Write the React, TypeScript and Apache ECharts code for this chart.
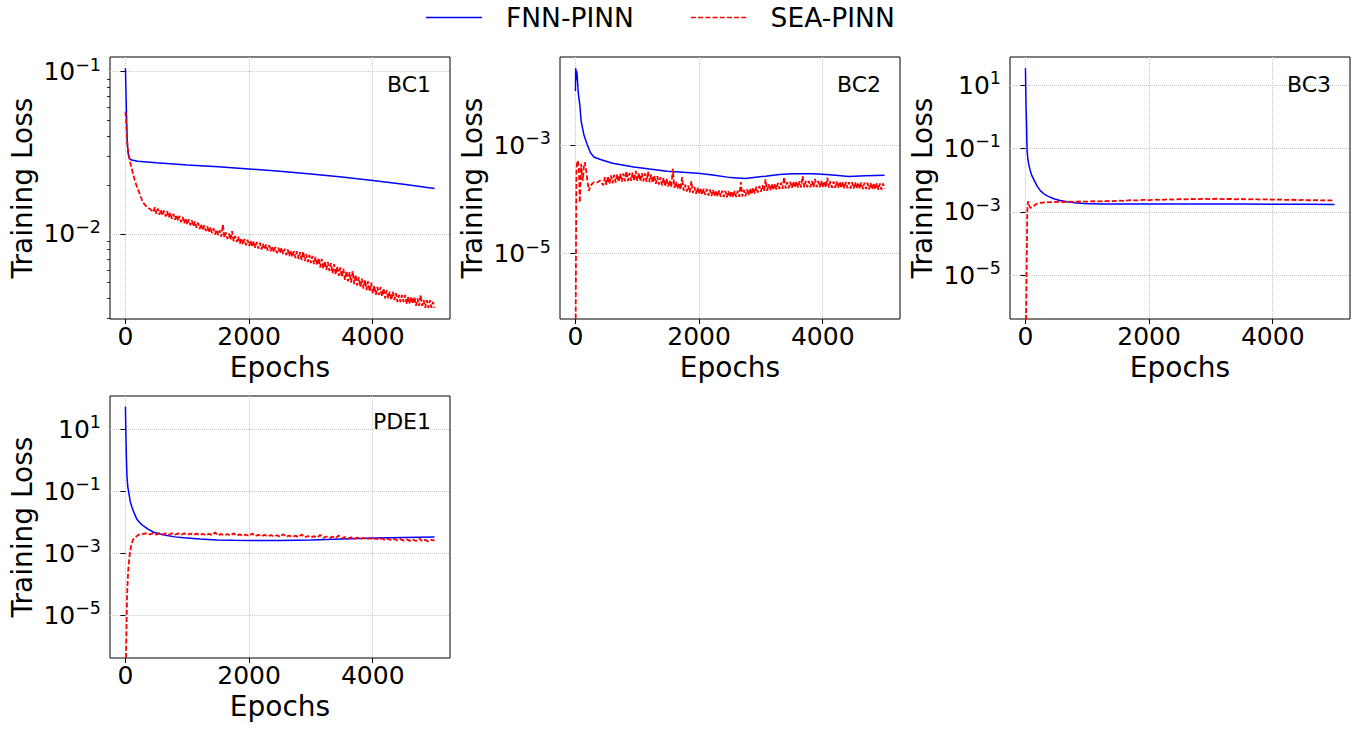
import React, { useEffect, useRef } from "react";
import * as echarts from "echarts";

const FONT = "DejaVu Sans";
const BLUE = "#0000ff";
const RED = "#ff0000";
const GRID_COLOR = "#c8c8c8";

const SERIES_NAMES = ["FNN-PINN", "SEA-PINN"];
const PANEL_NAMES = ["BC1", "BC2", "BC3", "PDE1"];
const X_TICKS = [0, 2000, 4000];
const BC1_Y_TICKS = [0.01, 0.1];
const BC1_MINOR_TICKS = [0.003, 0.004, 0.005, 0.006, 0.007, 0.008, 0.009, 0.02, 0.03, 0.04, 0.05, 0.06, 0.07, 0.08, 0.09];
const BC2_Y_TICKS = [1e-5, 1e-3];
const BC3_Y_TICKS = [1e-5, 1e-3, 1e-1, 10];
const PDE1_Y_TICKS = [1e-5, 1e-3, 1e-1, 10];

// ---------- BC1 ----------
const BC1_FNN_EP = [0, 10, 20, 30, 40, 55, 70, 100, 200, 500, 1000, 1500, 2000, 2500, 3000, 3500, 4000, 4500, 5000];
const BC1_FNN = [0.105, 0.07, 0.048, 0.037, 0.032, 0.0297, 0.029, 0.0285, 0.028, 0.0274, 0.0266, 0.0259, 0.0251, 0.0243, 0.0234, 0.0224, 0.0213, 0.0202, 0.019];
const BC1_SEA_EP = [0, 10, 20, 30, 40, 55, 70, 90, 110, 135, 160, 190, 220, 250, 280, 320, 360, 400];
const BC1_SEA_HEAD = [0.0566, 0.05, 0.042, 0.036, 0.033, 0.0305, 0.0285, 0.0262, 0.0245, 0.0225, 0.0208, 0.0193, 0.0181, 0.0168, 0.0157, 0.015, 0.0145, 0.0142];
// epochs 450..5000, every 25
const BC1_SEA_TAIL = [
  0.0136, 0.0146, 0.0133, 0.0143, 0.0131, 0.0141, 0.013, 0.0139, 0.0128, 0.0138, 0.0126, 0.0135, 0.0124, 0.0133, 0.0122, 0.0131, 0.012, 0.0129, 0.0118, 0.0127,
  0.0116, 0.0125, 0.0114, 0.0123, 0.0113, 0.0121, 0.0111, 0.0119, 0.0109, 0.0117, 0.0107, 0.0115, 0.0105, 0.0113, 0.0104, 0.0111, 0.0102, 0.011, 0.0101, 0.0108,
  0.0099, 0.0106, 0.0098, 0.0105, 0.0096, 0.0114, 0.0095, 0.0102, 0.0093, 0.01, 0.0092, 0.0104, 0.009, 0.0097, 0.0089, 0.0096, 0.0087, 0.0094, 0.0086, 0.0093,
  0.0085, 0.0092, 0.0084, 0.0091, 0.0083, 0.009, 0.0082, 0.0089, 0.0081, 0.0088, 0.008, 0.0087, 0.008, 0.0086, 0.0079, 0.0085, 0.0078, 0.0084, 0.0077, 0.0083,
  0.0076, 0.0082, 0.0076, 0.0082, 0.0075, 0.0081, 0.0074, 0.008, 0.0073, 0.0079, 0.0072, 0.0078, 0.0071, 0.0078, 0.007, 0.0077, 0.0069, 0.0078, 0.0068, 0.0075,
  0.0067, 0.0074, 0.0066, 0.0073, 0.0065, 0.0072, 0.0064, 0.0071, 0.0062, 0.007, 0.0061, 0.0068, 0.006, 0.0067, 0.0059, 0.0066, 0.0057, 0.0065, 0.0056, 0.0063,
  0.0055, 0.0062, 0.0054, 0.0061, 0.0052, 0.0059, 0.0051, 0.0058, 0.005, 0.0059, 0.0049, 0.0056, 0.0048, 0.0054, 0.0047, 0.0053, 0.0046, 0.0052, 0.0045, 0.0051,
  0.0044, 0.005, 0.0043, 0.0048, 0.0042, 0.0047, 0.0042, 0.0047, 0.0041, 0.0046, 0.004, 0.0045, 0.004, 0.0044, 0.0039, 0.0044, 0.0039, 0.0043, 0.0038, 0.0042,
  0.0038, 0.0042, 0.0038, 0.0042, 0.0037, 0.0041, 0.0037, 0.0041, 0.0037, 0.0041, 0.0036, 0.004, 0.0036, 0.0042, 0.0036, 0.0039, 0.0035, 0.0039, 0.0035, 0.0039,
  0.0035, 0.0038, 0.0035,
];

// ---------- BC2 ----------
const BC2_FNN_EP = [0, 4, 10, 16, 22, 30, 45, 70, 92, 135, 189, 243, 297, 404, 600, 943, 1200, 1482, 1750, 2021, 2250, 2507, 2749, 3073, 3300, 3504, 3827, 4000, 4205, 4420, 4690, 5000];
const BC2_FNN = [0.0101, 0.0267, 0.024, 0.016, 0.0235, 0.018, 0.0095, 0.0057, 0.0028, 0.0016, 0.00104, 0.00073, 0.00061, 0.00055, 0.00047, 0.0004, 0.000365, 0.000334, 0.000318, 0.000303, 0.00028, 0.000254, 0.000245, 0.00027, 0.00029, 0.000299, 0.000299, 0.000292, 0.000282, 0.000267, 0.000276, 0.000282];
const BC2_SEA_EP = [0, 15, 25, 37, 54, 62, 70, 80, 92, 105, 119, 135, 151, 173, 195, 216, 243, 270, 300, 350, 400];
const BC2_SEA_HEAD = [1e-7, 0.0003, 0.00047, 0.000525, 0.000394, 0.00022, 0.0000875, 0.00018, 0.000455, 0.0003, 0.000222, 0.0004, 0.000489, 0.000341, 0.00022, 0.000144, 0.000179, 0.000195, 0.00021, 0.000207, 0.000225];
// epochs 450..5000, every 25
const BC2_SEA_TAIL = [
  1.83e-4, 2.6e-4, 1.87e-4, 2.7e-4, 1.94e-4, 2.78e-4, 2.0e-4, 2.86e-4, 2.06e-4, 2.95e-4, 2.11e-4, 3.0e-4, 2.14e-4, 3.05e-4, 2.18e-4, 3.35e-4, 2.19e-4, 3.1e-4, 2.21e-4, 3.12e-4,
  2.21e-4, 3.4e-4, 2.21e-4, 3.11e-4, 2.19e-4, 3.08e-4, 2.17e-4, 3.04e-4, 2.13e-4, 3.3e-4, 2.07e-4, 2.9e-4, 2.02e-4, 2.8e-4, 1.96e-4, 2.7e-4, 1.89e-4, 2.6e-4, 1.82e-4, 2.52e-4,
  1.75e-4, 2.43e-4, 1.74e-4, 2.25e-4, 1.69e-4, 3.7e-4, 1.64e-4, 2.11e-4, 1.58e-4, 2.03e-4, 1.52e-4, 2.6e-4, 1.46e-4, 1.88e-4, 1.41e-4, 1.81e-4, 1.36e-4, 2.2e-4, 1.32e-4, 1.7e-4,
  1.28e-4, 1.66e-4, 1.26e-4, 1.63e-4, 1.23e-4, 1.59e-4, 1.21e-4, 1.56e-4, 1.18e-4, 1.53e-4, 1.16e-4, 1.51e-4, 1.14e-4, 1.48e-4, 1.13e-4, 1.47e-4, 1.12e-4, 1.46e-4, 1.11e-4, 1.44e-4,
  1.1e-4, 1.44e-4, 1.1e-4, 1.44e-4, 1.1e-4, 1.44e-4, 1.11e-4, 1.45e-4, 1.12e-4, 2.1e-4, 1.14e-4, 1.5e-4, 1.15e-4, 1.54e-4, 1.2e-4, 1.6e-4, 1.24e-4, 1.66e-4, 1.29e-4, 1.72e-4,
  1.35e-4, 1.78e-4, 1.39e-4, 1.84e-4, 1.43e-4, 2.35e-4, 1.45e-4, 1.92e-4, 1.48e-4, 1.95e-4, 1.5e-4, 1.98e-4, 1.53e-4, 2.02e-4, 1.56e-4, 2.05e-4, 1.58e-4, 2.6e-4, 1.6e-4, 2.1e-4,
  1.62e-4, 2.13e-4, 1.64e-4, 2.15e-4, 1.65e-4, 2.17e-4, 1.66e-4, 2.18e-4, 1.67e-4, 2.7e-4, 1.68e-4, 2.2e-4, 1.69e-4, 2.21e-4, 1.69e-4, 2.21e-4, 1.69e-4, 2.4e-4, 1.69e-4, 2.2e-4,
  1.68e-4, 2.2e-4, 1.67e-4, 2.19e-4, 1.67e-4, 2.55e-4, 1.66e-4, 2.17e-4, 1.65e-4, 2.16e-4, 1.65e-4, 2.15e-4, 1.64e-4, 2.14e-4, 1.63e-4, 2.13e-4, 1.62e-4, 2.12e-4, 1.61e-4, 2.1e-4,
  1.6e-4, 2.09e-4, 1.59e-4, 2.08e-4, 1.58e-4, 2.07e-4, 1.58e-4, 2.06e-4, 1.57e-4, 2.05e-4, 1.56e-4, 2.04e-4, 1.55e-4, 2.02e-4, 1.54e-4, 2.01e-4, 1.53e-4, 2.0e-4, 1.52e-4, 1.99e-4,
  1.51e-4, 1.98e-4, 1.6e-4,
];

// ---------- BC3 ----------
const BC3_FNN_EP = [0, 5, 10, 16, 22, 27, 40, 54, 80, 108, 150, 189, 240, 297, 370, 458, 560, 674, 800, 943, 1213, 1600, 2000, 2500, 3000, 3500, 4000, 4500, 5000];
const BC3_FNN = [33.6, 8, 2.0, 0.73, 0.2, 0.0824, 0.045, 0.0313, 0.019, 0.0134, 0.0092, 0.00647, 0.0047, 0.00372, 0.0031, 0.0026, 0.0023, 0.0021, 0.00195, 0.00185, 0.00178, 0.00177, 0.00177, 0.00177, 0.00176, 0.00176, 0.00175, 0.00173, 0.00171];
const BC3_SEA_EP = [0, 30, 43, 60, 81, 108, 135, 160, 200, 243, 300];
const BC3_SEA_HEAD = [1e-8, 0.0011, 0.00217, 0.0016, 0.00134, 0.0014, 0.00151, 0.0017, 0.00185, 0.00194, 0.00198];
// epochs 400..5000, every 100
const BC3_SEA_TAIL = [
  0.00203, 0.00207, 0.00205, 0.0021, 0.00208, 0.00213, 0.0021,
  0.00217, 0.00214, 0.0022, 0.00218, 0.00226, 0.00224, 0.00234, 0.0023, 0.0024, 0.00236,
  0.00244, 0.0024, 0.00248, 0.00244, 0.00254, 0.00248, 0.00258, 0.00252, 0.0026, 0.00254,
  0.0026, 0.00252, 0.00258, 0.0025, 0.00255, 0.00247, 0.00253, 0.00245, 0.0025, 0.00243,
  0.00246, 0.00239, 0.00242, 0.00236, 0.00238, 0.00233, 0.00235, 0.0023, 0.00232, 0.00229,
];

// ---------- PDE1 ----------
const PDE1_FNN_EP = [0, 5, 10, 16, 25, 38, 54, 80, 108, 150, 189, 240, 297, 370, 458, 560, 674, 800, 943, 1200, 1482, 1750, 2021, 2500, 3000, 3504, 4043, 4500, 5000];
const PDE1_FNN = [54, 12, 4, 1.07, 0.3, 0.14, 0.09, 0.045, 0.0295, 0.018, 0.0123, 0.0093, 0.0075, 0.0059, 0.0048, 0.0042, 0.00374, 0.0034, 0.00316, 0.0029, 0.00272, 0.00263, 0.00259, 0.00262, 0.00272, 0.00292, 0.0031, 0.00325, 0.0034];
const PDE1_SEA_EP = [0, 12, 27, 45, 65, 90, 120, 160, 200, 240, 300];
const PDE1_SEA_HEAD = [1e-8, 1e-6, 5e-5, 3e-4, 8e-4, 0.0017, 0.0027, 0.0033, 0.0038, 0.00424, 0.00428];
// epochs 350..5000, every 50
const PDE1_SEA_TAIL = [
  0.00453, 0.00405, 0.00451, 0.00403, 0.00448, 0.00401, 0.00446, 0.00399, 0.00444, 0.00397, 0.00442, 0.00395, 0.0044, 0.00393,
  0.00438, 0.0039, 0.00434, 0.00387, 0.00429, 0.00384, 0.00427, 0.00382, 0.0047, 0.0038, 0.00423, 0.00377, 0.00419, 0.00373, 0.00445, 0.0037, 0.0041, 0.00366, 0.00406, 0.00362,
  0.0044, 0.00358, 0.00398, 0.00354, 0.00393, 0.00351, 0.00389, 0.00347, 0.00385, 0.00343, 0.00418, 0.00339, 0.00376, 0.00335, 0.00372, 0.00332, 0.0041, 0.00328, 0.00364, 0.00324,
  0.00359, 0.0032, 0.00392, 0.00316, 0.00351, 0.00313, 0.00347, 0.00309, 0.00375, 0.00304, 0.00336, 0.00298, 0.0033, 0.00293, 0.00323, 0.00287, 0.00317, 0.00281, 0.00311, 0.00276,
  0.00305, 0.00272, 0.00301, 0.00268, 0.00297, 0.00264, 0.00293, 0.0026, 0.00288, 0.00257, 0.00284, 0.00253, 0.0028, 0.00249, 0.0031, 0.00246, 0.00273, 0.00244, 0.00272, 0.00257,
];

function pairs(ep: number[], v: number[]) {
  return ep.map((e, i) => [e, v[i]]);
}
function sampled(start: number, step: number, v: number[]) {
  return v.map((y, i) => [start + i * step, y]);
}

const PANEL_DATA = [
  { fnn: pairs(BC1_FNN_EP, BC1_FNN), sea: pairs(BC1_SEA_EP, BC1_SEA_HEAD).concat(sampled(450, 25, BC1_SEA_TAIL)), ticks: BC1_Y_TICKS },
  { fnn: pairs(BC2_FNN_EP, BC2_FNN), sea: pairs(BC2_SEA_EP, BC2_SEA_HEAD).concat(sampled(450, 25, BC2_SEA_TAIL)), ticks: BC2_Y_TICKS },
  { fnn: pairs(BC3_FNN_EP, BC3_FNN), sea: pairs(BC3_SEA_EP, BC3_SEA_HEAD).concat(sampled(400, 100, BC3_SEA_TAIL)), ticks: BC3_Y_TICKS },
  { fnn: pairs(PDE1_FNN_EP, PDE1_FNN), sea: pairs(PDE1_SEA_EP, PDE1_SEA_HEAD).concat(sampled(350, 50, PDE1_SEA_TAIL)), ticks: PDE1_Y_TICKS },
];

// layout (pixels) and axis ranges
const LAYOUT = [
  { left: 110, top: 57, ymin: 0.002985, ymax: 0.123, titleRight: 932, titleTop: 73 },
  { left: 560, top: 57, ymin: 6.18e-7, ymax: 0.04315, titleRight: 482, titleTop: 73 },
  { left: 1010, top: 57, ymin: 4.2e-7, ymax: 76.6, titleRight: 32, titleTop: 73 },
  { left: 110, top: 396, ymin: 4.2e-7, ymax: 119.4, titleRight: 932, titleTop: 410 },
];

const LEGEND_SOLID_ICON = "path://M0 0H56V1.5H0Z";
const LEGEND_DASHED_ICON =
  "path://M0 0H5V1.5H0Z M7.2 0H12.2V1.5H7.2Z M14.4 0H19.4V1.5H14.4Z M21.6 0H26.6V1.5H21.6Z M28.8 0H33.8V1.5H28.8Z M36 0H41V1.5H36Z M43.2 0H48.2V1.5H43.2Z M50.4 0H55.4V1.5H50.4Z";

const supLabel = (v: number) => {
  const e = Math.round(Math.log10(v));
  const s = e < 0 ? "\u2212" + -e : String(e);
  return `{b|10}{s|${s}}`;
};

function buildOption() {
  const grid: any[] = [];
  const xAxis: any[] = [];
  const yAxis: any[] = [];
  const series: any[] = [];
  const title: any[] = [];
  LAYOUT.forEach((L, i) => {
    grid.push({
      left: L.left, top: L.top, width: 340, height: 262,
      show: true, borderColor: "#000", borderWidth: 1, backgroundColor: "transparent",
    });
    xAxis.push({
      type: "value", gridIndex: i, min: -250, max: 5250,
      axisLine: { show: false },
      axisTick: { show: true, length: 5, customValues: X_TICKS, lineStyle: { color: "#000", width: 1 } },
      axisLabel: {
        customValues: X_TICKS, fontSize: 25, fontFamily: FONT, color: "#000", margin: 5,
        formatter: (v: number) => String(v),
      },
      splitLine: { show: true, lineStyle: { color: GRID_COLOR, type: "dotted", width: 1 } },
      name: "Epochs", nameLocation: "middle", nameGap: 34,
      nameTextStyle: { fontSize: 28, fontFamily: FONT, color: "#000" },
    });
    yAxis.push({
      type: "log", logBase: 10, gridIndex: i, min: L.ymin, max: L.ymax,
      axisLine: { show: false },
      axisTick: { show: true, length: 5, customValues: PANEL_DATA[i].ticks, lineStyle: { color: "#000", width: 1 } },
      axisLabel: {
        customValues: PANEL_DATA[i].ticks, formatter: supLabel, margin: 9,
        rich: {
          b: { fontSize: 25, fontFamily: FONT, color: "#000", lineHeight: 32 },
          s: { fontSize: 17.5, fontFamily: FONT, color: "#000", verticalAlign: "top" },
        },
      },
      splitLine: { show: true, lineStyle: { color: GRID_COLOR, type: "dotted", width: 1 } },
      name: "Training Loss", nameLocation: "middle", nameGap: 74,
      nameTextStyle: { fontSize: 28, fontFamily: FONT, color: "#000" },
    });
    series.push({
      type: "line", name: SERIES_NAMES[0], xAxisIndex: i, yAxisIndex: i,
      data: PANEL_DATA[i].fnn, symbol: "none", clip: true, z: 3,
      lineStyle: { color: BLUE, width: 1.5 }, itemStyle: { color: BLUE },
    });
    series.push({
      type: "line", name: SERIES_NAMES[1], xAxisIndex: i, yAxisIndex: i,
      data: PANEL_DATA[i].sea, symbol: "none", clip: true, z: 4,
      lineStyle: { color: RED, width: 1.8, type: [5, 2.2] }, itemStyle: { color: RED },
    });
    title.push({
      text: PANEL_NAMES[i], right: L.titleRight, top: L.titleTop, padding: 0,
      textStyle: { fontSize: 22, fontWeight: "normal", fontFamily: FONT, color: "#000" },
    });
  });
  // minor ticks for the first panel's log axis
  yAxis.push({
    type: "log", logBase: 10, gridIndex: 0, min: LAYOUT[0].ymin, max: LAYOUT[0].ymax,
    position: "left", offset: 0,
    axisLine: { show: false },
    axisTick: { show: true, length: 3, customValues: BC1_MINOR_TICKS, lineStyle: { color: "#000", width: 0.8 } },
    axisLabel: { show: false },
    splitLine: { show: false },
  });

  return {
    animation: false,
    backgroundColor: "#fff",
    textStyle: { fontFamily: FONT },
    title,
    legend: {
      left: 426, top: 4, padding: 0, itemWidth: 56, itemHeight: 1.5, itemGap: 57,
      data: [
        { name: SERIES_NAMES[0], icon: LEGEND_SOLID_ICON },
        { name: SERIES_NAMES[1], icon: LEGEND_DASHED_ICON },
      ],
      formatter: (n: string) => `{t|${n}}`,
      textStyle: {
        fontSize: 26.5, fontFamily: FONT, color: "#000",
        rich: { t: { fontSize: 26.5, fontFamily: FONT, color: "#000", padding: [0, 0, 0, 19] } },
      },
    },
    grid, xAxis, yAxis, series,
  };
}

export default function App() {
  const ref = useRef<HTMLDivElement>(null);
  useEffect(() => {
    const chart = echarts.init(ref.current!, null, { renderer: "svg" });
    chart.setOption(buildOption() as any);
    return () => chart.dispose();
  }, []);
  return (
    <div
      ref={ref}
      style={{ position: "absolute", left: 0, top: 0, width: 1363, height: 732, background: "#fff" }}
    />
  );
}
